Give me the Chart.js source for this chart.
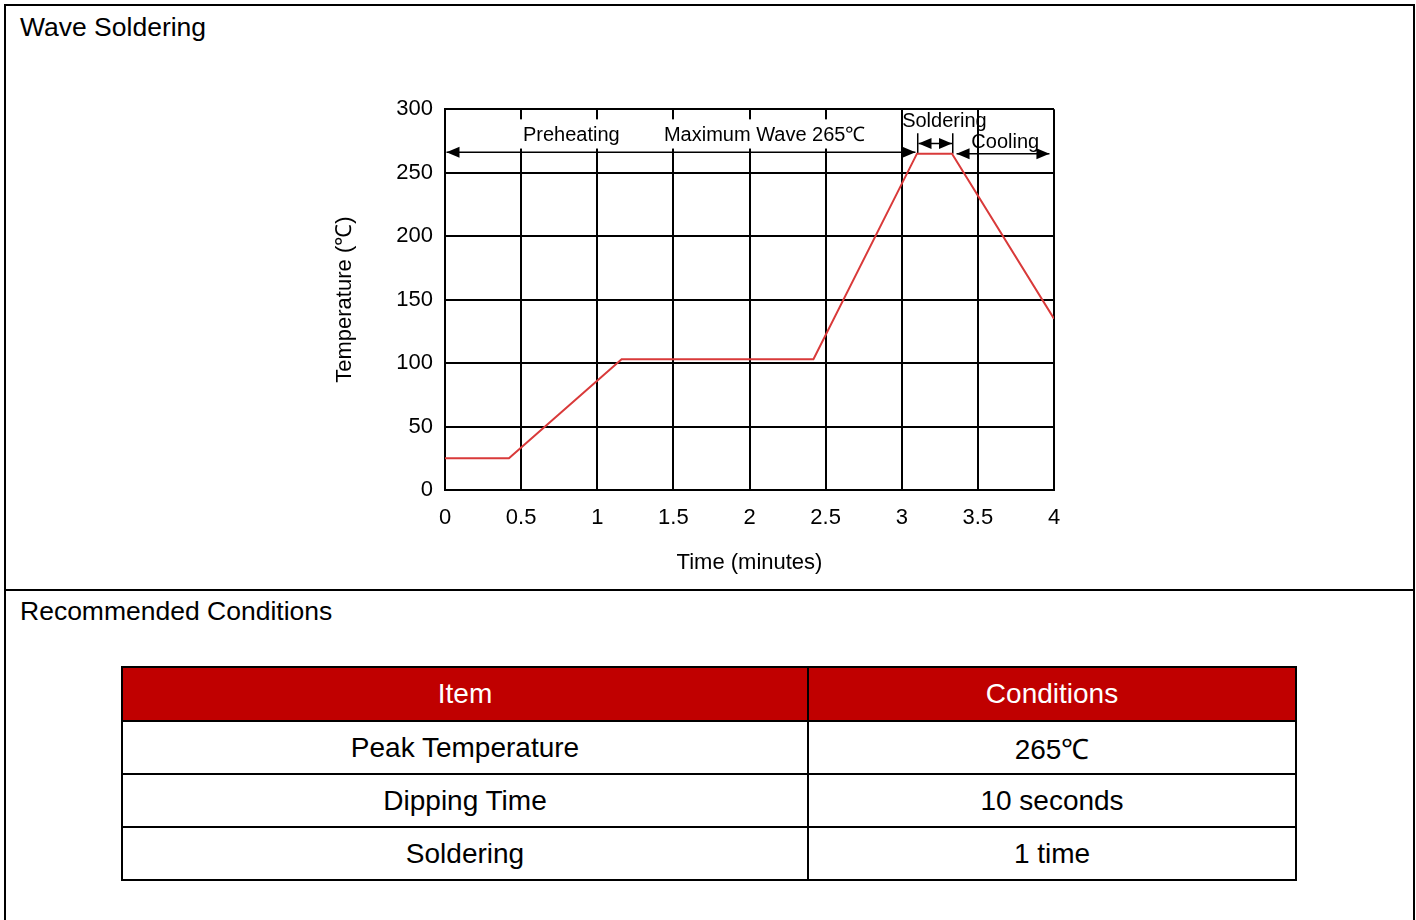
<!DOCTYPE html>
<html>
<head>
<meta charset="utf-8">
<script src="https://cdn.jsdelivr.net/npm/chart.js@4/dist/chart.umd.min.js"></script>
<style>
  body { margin: 0; background: #fff; font-family: "Liberation Sans", Arial, sans-serif; }
  #frame { position: absolute; left: 4px; top: 4px; width: 1407px; height: 930px; border: 2px solid #000; }
  #divider { position: absolute; left: 4px; top: 589px; width: 1410px; height: 2px; background: #000; }
  .heading { position: absolute; left: 20px; font-size: 26.5px; color: #000; }
  #wrap { position: absolute; left: 330px; top: 84px; width: 760px; height: 501px; }
  table { position: absolute; left: 121px; top: 666px; width: 1176px; border-collapse: collapse; font-size: 28px; }
  td, th { border: 2px solid #000; text-align: center; height: 51px; padding: 0; font-weight: normal; }
  th { background: #C00000; color: #fff; height: 52px; }
</style>
</head>
<body>
<div id="frame"></div>
<div id="divider"></div>
<div class="heading" style="top:12px">Wave Soldering</div>
<div class="heading" style="top:596px">Recommended Conditions</div>
<div id="wrap"><canvas id="myChart"></canvas></div>
<table>
  <tr><th style="width:684px">Item</th><th>Conditions</th></tr>
  <tr><td>Peak Temperature</td><td>265℃</td></tr>
  <tr><td>Dipping Time</td><td>10 seconds</td></tr>
  <tr><td>Soldering</td><td>1 time</td></tr>
</table>
<script>
// profile data
const times = [0, 0.42, 1.16, 2.42, 3.1, 3.33, 4];
const temps = [25, 25, 103, 103, 265, 265, 135];
const xTicks = [0, 0.5, 1, 1.5, 2, 2.5, 3, 3.5, 4];
const yTicks = [0, 50, 100, 150, 200, 250, 300];

const points = times.map((t, i) => ({ x: t, y: temps[i] }));
const FONT = "'Liberation Sans', Arial";

function arrowHead(ctx, x, y, dir) {
  ctx.beginPath();
  ctx.moveTo(x, y);
  ctx.lineTo(x - dir * 13, y - 5.5);
  ctx.lineTo(x - dir * 13, y + 5.5);
  ctx.closePath();
  ctx.fill();
}

function hArrow(ctx, x1, x2, y) {
  ctx.beginPath();
  ctx.moveTo(x1, y);
  ctx.lineTo(x2, y);
  ctx.stroke();
  arrowHead(ctx, x1, y, -1);
  arrowHead(ctx, x2, y, 1);
}

// labels and arrows on top of the grid
const phases = {
  id: "phases",
  beforeDatasetsDraw(chart) {
    const { ctx } = chart;
    const xs = chart.scales.x, ys = chart.scales.y;
    const px = v => xs.getPixelForValue(v);
    const py = v => ys.getPixelForValue(v);
    ctx.save();
    ctx.fillStyle = "#fff";
    ctx.fillRect(px(0.48), py(292), px(2.8) - px(0.48), py(269) - py(292));
    ctx.strokeStyle = "#000";
    ctx.fillStyle = "#000";
    ctx.lineWidth = 1.5;
    hArrow(ctx, px(0.01), px(3.09), py(266));
    hArrow(ctx, px(3.36), px(3.97), py(265));
    hArrow(ctx, px(3.11), px(3.33), py(273));
    ctx.beginPath();
    ctx.moveTo(px(3.105), py(281)); ctx.lineTo(px(3.105), py(265));
    ctx.moveTo(px(3.335), py(281)); ctx.lineTo(px(3.335), py(265));
    ctx.stroke();
    ctx.font = "20px " + FONT;
    ctx.textBaseline = "middle";
    ctx.textAlign = "center";
    ctx.fillText("Preheating", px(0.83), py(279.5));
    ctx.fillText("Maximum Wave 265℃", px(2.1), py(279.5));
    ctx.fillText("Soldering", px(3.28), py(290.5));
    ctx.fillText("Cooling", px(3.68), py(273.5));
    ctx.restore();
  }
};

const config = {
  type: "scatter",
  data: {
    datasets: [
      {
        data: points,
        showLine: true,
        borderColor: "#D93A3A",
        backgroundColor: "#D93A3A",
        borderWidth: 2,
        pointRadius: 0,
        tension: 0,
      },
    ],
  },
  options: {
    responsive: true,
    maintainAspectRatio: false,
    animation: false,
    layout: { padding: { top: 3, right: 36, left: 0, bottom: 0 } },
    plugins: { legend: { display: false }, tooltip: { enabled: false } },
    scales: {
      x: {
        type: "linear",
        min: 0,
        max: 4,
        afterFit: s => { s.height = 95; },
        afterBuildTicks: s => { s.ticks = xTicks.map(v => ({ value: v })); },
        grid: { color: "#000", lineWidth: 2, drawTicks: false },
        border: { color: "#000", width: 2 },
        ticks: { color: "#000", padding: 15, callback: v => String(v), font: { size: 22, family: FONT } },
        title: {
          display: true,
          text: "Time (minutes)",
          color: "#000",
          padding: { top: 0, bottom: 9 },
          font: { size: 22, family: FONT },
        },
      },
      y: {
        min: 0,
        max: 300,
        afterFit: s => { s.width = 115; },
        afterBuildTicks: s => { s.ticks = yTicks.map(v => ({ value: v })); },
        grid: { color: "#000", lineWidth: 2, drawTicks: false },
        border: { color: "#000", width: 2 },
        ticks: { color: "#000", padding: 12, font: { size: 22, family: FONT } },
        title: {
          display: true,
          text: "Temperature (℃)",
          color: "#000",
          padding: { top: 2, bottom: 0 },
          font: { size: 22, family: FONT },
        },
      },
    },
  },
  plugins: [phases],
};

const myChart = new Chart(document.getElementById("myChart"), config);
</script>
</body>
</html>
